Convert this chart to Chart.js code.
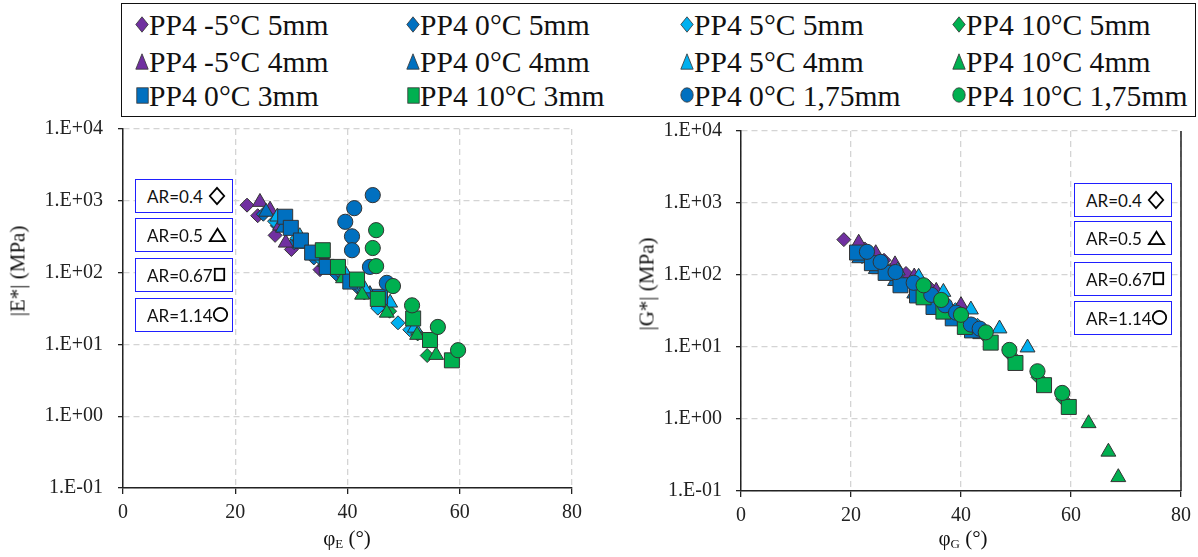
<!DOCTYPE html>
<html><head><meta charset="utf-8">
<script src="https://cdn.jsdelivr.net/npm/chart.js@4.4.0/dist/chart.umd.min.js"></script>
<style>
html,body{margin:0;padding:0;background:#fff;}
#wrap{position:relative;width:1198px;height:557px;overflow:hidden;font-family:'Liberation Serif',serif;color:#111;}
canvas{position:absolute;top:0;}
#legend{position:absolute;left:121px;top:3px;width:1075px;height:114px;border:1.5px solid #111;box-sizing:border-box;background:#fff;}
.li{position:absolute;}
.li span{position:absolute;white-space:nowrap;font-family:'Liberation Serif','Times New Roman',serif;font-size:29px;line-height:26px;transform:scaleX(1.02);transform-origin:0 50%;}
.ar{position:absolute;width:98px;height:34px;border:1.5px solid #1f1fff;box-sizing:border-box;background:#fff;font-family:Lato,'Open Sans',sans-serif;font-size:17px;}
.ar span{position:absolute;left:11px;top:50%;transform:translateY(-50%);white-space:nowrap;}
.ar svg{position:absolute;}
.yt{position:absolute;transform:translate(-50%,-50%) rotate(-90deg);font-size:21px;white-space:nowrap;}
.xt{position:absolute;transform:translate(-50%,-50%);font-size:21px;white-space:nowrap;}
.xt sub{font-size:13px;vertical-align:-3px;}
</style></head>
<body><div id="wrap">
<canvas id="cE" width="600" height="557" style="left:0px;width:600px;height:557px"></canvas>
<canvas id="cG" width="598" height="557" style="left:600px;width:598px;height:557px"></canvas>
<div id="legend"></div>
<div class="yt" style="left:18px;top:271px">|E*| (MPa)</div>
<div class="yt" style="left:647px;top:284px">|G*| (MPa)</div>
<div class="xt" style="left:347px;top:539px">φ<sub>E</sub> (°)</div>
<div class="xt" style="left:963px;top:539px">φ<sub>G</sub> (°)</div>
</div>
<script>
// ---- series definitions (legend order) ----
const seriesLabels = ['PP4 -5°C 5mm','PP4 0°C 5mm','PP4 5°C 5mm','PP4 10°C 5mm',
  'PP4 -5°C 4mm','PP4 0°C 4mm','PP4 5°C 4mm','PP4 10°C 4mm',
  'PP4 0°C 3mm','PP4 10°C 3mm','PP4 0°C 1,75mm','PP4 10°C 1,75mm'];
const seriesColors = ['#7030A0','#0070C0','#00B0F0','#00B050',
  '#7030A0','#0070C0','#00B0F0','#00B050',
  '#0070C0','#00B050','#0070C0','#00B050'];
const seriesShapes = ['rectRot','rectRot','rectRot','rectRot',
  'triangle','triangle','triangle','triangle',
  'rect','rect','circle','circle'];
const seriesDrawOrder = [11,10,9,8,7,6,5,4,3,2,1,0];

// ---- axis ticks ----
const xTickValues = [0,20,40,60,80];
const yTickValues = [0.1,1,10,100,1000,10000];
const yTickLabels = ['1.E-01','1.E+00','1.E+01','1.E+02','1.E+03','1.E+04'];

// ---- |E*| vs phi_E  [phi, modulus MPa] ----
const E_m5C_5mm  = [[22.1,870],[24.0,620],[27.1,330],[30.0,210],[35.1,110]];
const E_0C_5mm   = [[25.0,650],[27.5,450],[30.5,260],[34.0,160],[38.0,95],[42.0,60]];
const E_5C_5mm   = [[27.0,520],[31.0,300],[35.0,160],[39.0,95],[42.0,65],[45.4,32],[49.0,20],[51.1,16]];
const E_10C_5mm  = [[40.0,80],[43.0,52],[47.5,29],[52.5,14],[54.2,7]];
const E_m5C_4mm  = [[24.4,960],[26.2,750],[28.0,450],[29.0,260]];
const E_0C_4mm   = [[25.5,700],[28.5,420],[32.0,250],[36.0,140],[40.0,85],[44.0,50]];
const E_5C_4mm   = [[27.5,600],[31.5,320],[35.5,180],[39.5,100],[43.0,60],[47.6,38],[52.0,17]];
const E_10C_4mm  = [[39.2,83],[42.6,49],[47.0,27.5],[52.4,13.5],[55.8,7.1]];
const E_0C_3mm   = [[28.9,600],[29.9,420],[31.7,280],[33.7,190],[36.3,120],[40.5,75],[45.8,46]];
const E_10C_3mm  = [[35.6,205],[38.3,120],[41.7,80],[45.4,43],[51.7,23],[54.7,11.5],[58.6,6]];
const E_0C_175mm = [[44.5,1200],[41.2,790],[39.6,510],[40.8,320],[40.8,205],[44.0,120],[47.0,72]];
const E_10C_175mm= [[45.1,390],[44.5,220],[45.1,123],[48.1,65],[51.5,35],[56.1,17.5],[59.7,8.3]];

// ---- |G*| vs phi_G  [phi, modulus MPa] ----
const G_m5C_5mm  = [[18.7,310],[22.5,230],[26.0,160],[30.0,105],[34.0,70]];
const G_0C_5mm   = [[22.0,180],[25.0,130],[28.5,90],[32.0,60],[36.0,40],[40.0,25]];
const G_5C_5mm   = [[27.0,115],[31.0,80],[35.0,52],[39.0,33],[43.0,20]];
const G_10C_5mm  = [[33.0,55],[36.5,38],[40.5,24],[44.5,14],[49.0,7.8],[54.0,3.8],[58.5,1.9]];
const G_m5C_4mm  = [[21.4,280],[24.5,200],[28.0,140],[31.5,95],[35.5,60],[40.0,38]];
const G_0C_4mm   = [[21.5,170],[24.5,120],[28.0,82],[31.5,55],[35.5,36],[39.5,24],[43.5,15]];
const G_5C_4mm   = [[28.5,115],[32.3,94],[36.8,58],[41.8,33],[47.0,18],[52.1,9.8]];
const G_10C_4mm  = [[63.2,0.87],[66.8,0.35],[68.6,0.155]];
const G_0C_3mm   = [[21.1,205],[23.8,146],[26.3,107],[29.0,72],[32.0,52],[35.0,36],[38.5,25],[42.0,17]];
const G_10C_3mm  = [[33.2,49],[36.8,31],[40.7,19],[45.4,11.5],[49.9,6],[55.1,2.95],[59.6,1.47]];
const G_0C_175mm = [[22.9,210],[25.4,152],[28.1,110],[31.4,78],[34.6,53],[37.1,38],[39.1,30],[41.8,20.5],[43.4,18]];
const G_10C_175mm= [[33.2,72],[36.4,45],[40.0,28],[44.5,16],[48.8,9.1],[53.9,4.6],[58.4,2.3]];

const E_series = [E_m5C_5mm,E_0C_5mm,E_5C_5mm,E_10C_5mm,E_m5C_4mm,E_0C_4mm,E_5C_4mm,E_10C_4mm,E_0C_3mm,E_10C_3mm,E_0C_175mm,E_10C_175mm];
const G_series = [G_m5C_5mm,G_0C_5mm,G_5C_5mm,G_10C_5mm,G_m5C_4mm,G_0C_4mm,G_5C_4mm,G_10C_4mm,G_0C_3mm,G_10C_3mm,G_0C_175mm,G_10C_175mm];

// ---- AR annotation labels ----
const arLabels = ['AR=0.4','AR=0.5','AR=0.67','AR=1.14'];
const arShapes = ['diamond','triangle','square','circle'];

// ---------------- drawing ----------------
const shapeRadius = {rectRot:7, triangle:8.6, rect:10.6, circle:7.6};
function makeDatasets(series){
  return series.map((pts,i)=>({
    label: seriesLabels[i],
    data: pts.map(p=>({x:p[0],y:p[1]})),
    pointStyle: seriesShapes[i],
    pointRadius: shapeRadius[seriesShapes[i]],
    backgroundColor: seriesColors[i],
    borderColor: '#333',
    borderWidth: 1,
    showLine: false,
    order: seriesDrawOrder[i]
  }));
}
const tickFont = {family:"'Liberation Serif', serif", size:20};
function makeOptions(pad, yWidth, xHeight, yPad, xPad){
  return {
    responsive:false, animation:false, devicePixelRatio:1, events:[],
    layout:{padding:pad},
    plugins:{legend:{display:false}, tooltip:{enabled:false}},
    scales:{
      x:{type:'linear', min:0, max:80,
         afterBuildTicks:s=>{s.ticks = xTickValues.map(v=>({value:v}));},
         afterFit:s=>{s.height = xHeight;},
         ticks:{font:tickFont, color:'#222', padding:xPad, maxRotation:0},
         grid:{color:'#d4d4d4', lineWidth:1.3, tickColor:'#222', tickLength:6, tickWidth:1.3},
         border:{color:'#222', width:1.5, dash:[6,4]}},
      y:{type:'logarithmic', min:0.1, max:10000,
         afterBuildTicks:s=>{s.ticks = yTickValues.map(v=>({value:v, major:true}));},
         afterFit:s=>{s.width = yWidth;},
         ticks:{font:tickFont, color:'#222', padding:yPad,
                callback:(v)=>yTickLabels[yTickValues.indexOf(v)]},
         grid:{color:'#d4d4d4', lineWidth:1.3, tickColor:'#222', tickLength:5, tickWidth:1.3},
         border:{color:'#222', width:1.5, dash:[6,4]}}
    }
  };
}
const rightEdge = {id:'rightEdge', beforeDatasetsDraw(chart){
  const ctx = chart.ctx, xs = chart.scales.x, a = chart.chartArea;
  const x = xs.getPixelForValue(80);
  ctx.save(); ctx.strokeStyle='#222'; ctx.lineWidth=1.5;
  ctx.beginPath(); ctx.moveTo(x, a.top); ctx.lineTo(x, a.bottom); ctx.stroke(); ctx.restore();
}};

new Chart(document.getElementById('cE'), {
  type:'scatter',
  data:{datasets:makeDatasets(E_series)},
  options:makeOptions({top:129,right:28,left:0,bottom:0}, 123, 69, 15, 7)
});
new Chart(document.getElementById('cG'), {
  type:'scatter',
  data:{datasets:makeDatasets(G_series)},
  options:makeOptions({top:131,right:13,left:0,bottom:0}, 141, 66, 14, 7),
  plugins:[rightEdge]
});

// ---- legend (HTML) ----
const svgNS='http://www.w3.org/2000/svg';
function markerSVG(shape, color, w, h, stroke, sw){
  const svg=document.createElementNS(svgNS,'svg');
  svg.setAttribute('width',w); svg.setAttribute('height',h);
  let el;
  const m = sw;
  if(shape==='rectRot'||shape==='diamond'){
    el=document.createElementNS(svgNS,'polygon');
    el.setAttribute('points',`${w/2},${m} ${w-m},${h/2} ${w/2},${h-m} ${m},${h/2}`);
  } else if(shape==='triangle'){
    el=document.createElementNS(svgNS,'polygon');
    el.setAttribute('points',`${w/2},${m} ${w-m},${h-m} ${m},${h-m}`);
  } else if(shape==='rect'||shape==='square'){
    el=document.createElementNS(svgNS,'rect');
    el.setAttribute('x',m); el.setAttribute('y',m); el.setAttribute('width',w-2*m); el.setAttribute('height',h-2*m);
  } else {
    el=document.createElementNS(svgNS,'ellipse');
    el.setAttribute('cx',w/2); el.setAttribute('cy',h/2); el.setAttribute('rx',w/2-m); el.setAttribute('ry',h/2-m);
  }
  el.setAttribute('fill',color); el.setAttribute('stroke',stroke); el.setAttribute('stroke-width',sw);
  svg.appendChild(el);
  return svg;
}
const legendColX = [20, 291, 565, 837];   // marker centres relative to legend box
const legendRowY = [19, 56, 90];
const legendCells = [[0,1,2,3],[4,5,6,7],[8,9,10,11]];
const lg=document.getElementById('legend');
legendCells.forEach((row,r)=>row.forEach((si,c)=>{
  const d=document.createElement('div'); d.className='li';
  d.style.left=(legendColX[c]-8)+'px'; d.style.top=(legendRowY[r]-13)+'px';
  const shp=seriesShapes[si];
  const sz = shp==='triangle'?[14,17]:shp==='rect'?[13,17]:shp==='circle'?[14,16]:[14,17];
  const svg=markerSVG(shp, seriesColors[si], sz[0], sz[1], '#333', 0.8);
  svg.style.position='absolute'; svg.style.left=(8-sz[0]/2)+'px'; svg.style.top=(14-sz[1]/2)+'px';
  d.appendChild(svg);
  const t=document.createElement('span'); t.textContent=seriesLabels[si];
  t.style.left='15px'; t.style.top='2px';
  d.appendChild(t);
  lg.appendChild(d);
}));

// ---- AR boxes (HTML) ----
const arBoxLeft = [135, 1074];
const arBoxTops = [[179,218,258,298],[183,221,262,301]];
const wrap=document.getElementById('wrap');
arBoxLeft.forEach((bx,k)=>{
  arLabels.forEach((lab,i)=>{
    const b=document.createElement('div'); b.className='ar';
    b.style.left=bx+'px'; b.style.top=arBoxTops[k][i]+'px';
    const s=document.createElement('span'); s.textContent=lab; b.appendChild(s);
    const shp=arShapes[i];
    const sz = shp==='diamond'?[18,20]:shp==='triangle'?[19,16]:shp==='square'?[13,15]:[17,17];
    const svg=markerSVG(shp,'none',sz[0],sz[1],'#000',1.8);
    const cx = shp==='square'?83:shp==='circle'?84:81;
    svg.style.left=(cx-sz[0]/2)+'px'; svg.style.top=(15.5-sz[1]/2)+'px';
    b.appendChild(svg);
    wrap.appendChild(b);
  });
});
</script>
</body></html>
